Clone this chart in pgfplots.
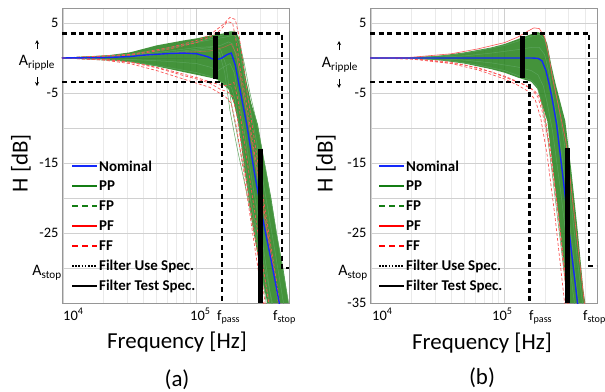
\documentclass[border=0pt]{standalone}
\usepackage{pgfplots}
\pgfplotsset{compat=1.18}
\usepackage{fontspec}
\setmainfont{Carlito}
\definecolor{nomblue}{RGB}{20,40,250}
\definecolor{ppgreen}{RGB}{20,125,20}
\definecolor{bandgreen}{RGB}{35,128,25}
\definecolor{ffred}{RGB}{250,85,85}
\definecolor{gridgray}{RGB}{208,208,208}
\definecolor{framegray}{RGB}{150,150,150}
\pgfplotsset{
 panel/.style={
  scale only axis, width=227bp, height=295bp,
  xmin=3.99, xmax=5.693, ymin=-35, ymax=7.14,
  axis line style={framegray, line width=0.6bp},
  xtick={4,5}, xticklabels={},
  minor xtick={4.301,4.477,4.602,4.699,4.778,4.845,4.903,4.954,5.301,5.477,5.602},
  ytick={-35,-30,...,5},
  major tick length=0pt, minor tick length=0pt,
  grid=both,
  major grid style={gridgray, line width=0.6bp},
  minor grid style={gridgray!45, line width=0.4bp},
  yticklabel style={font=\fontsize{14.5}{16}\selectfont},
  clip mode=individual,
 },
 nominal/.style={nomblue, line width=1.4bp},
 band/.style={draw=none, fill=bandgreen, fill opacity=0.85, forget plot},
 gline/.style={ppgreen!70!white, line width=0.5bp, forget plot},
 ffline/.style={ffred, line width=0.7bp, dash pattern=on 3bp off 2bp, forget plot},
 pfline/.style={ffred, line width=0.6bp, forget plot},
 usespec/.style={black, line width=2.5bp, dash pattern=on 5bp off 3.5bp, forget plot},
 testspec/.style={black, line width=4.5bp, forget plot},
}
% legend drawn as key swatches beside bold labels, x0 = left end of swatch (bp)
\newcommand{\mylegend}[1]{%
  \begin{scope}[every node/.style={font=\bfseries\fontsize{15}{16}\selectfont, inner sep=0pt, anchor=west}]
  \draw[nomblue, line width=1.8bp] (#1bp,-166bp) -- ++(25bp,0);
  \node at (#1bp+27bp,-166bp) {Nominal};
  \draw[ppgreen, line width=1.8bp] (#1bp,-186bp) -- ++(25bp,0);
  \node at (#1bp+27bp,-186bp) {PP};
  \draw[ppgreen, line width=1.8bp, dash pattern=on 6bp off 4bp] (#1bp,-206bp) -- ++(25bp,0);
  \node at (#1bp+27bp,-206bp) {FP};
  \draw[red, line width=1.8bp] (#1bp,-226bp) -- ++(25bp,0);
  \node at (#1bp+27bp,-226bp) {PF};
  \draw[red, line width=1.8bp, dash pattern=on 6bp off 4bp] (#1bp,-246bp) -- ++(25bp,0);
  \node at (#1bp+27bp,-246bp) {FF};
  \draw[black, line width=1.6bp, dash pattern=on 1.6bp off 1.6bp] (#1bp,-266bp) -- ++(25bp,0);
  \node at (#1bp+27bp,-266bp) {Filter Use Spec.};
  \draw[black, line width=2.4bp] (#1bp,-286bp) -- ++(25bp,0);
  \node at (#1bp+27bp,-286bp) {Filter Test Spec.};
  \end{scope}%
}
\begin{document}
\begin{tikzpicture}
\path[use as bounding box] (0,0) rectangle (605bp,-392bp);
% ---------------- panel (a)
\begin{axis}[panel, at={(62bp,-8bp)}, anchor=north west,
  yticklabels={{},{},{-25},{},{-15},{},{-5},{},{5}}]
\addplot[band] coordinates {(3.99,0.05) (4.3,0.3) (4.5,0.8) (4.7,1.8) (4.9,2.5) (5.0,2.8) (5.1,3.2) (5.2,3.5) (5.25,3.8) (5.29,3.8) (5.32,2.8) (5.35,-0.5) (5.37,-3) (5.41,-6.5) (5.46,-9.5) (5.5,-14) (5.56,-20) (5.6,-25) (5.65,-30) (5.69,-35) (5.53,-35) (5.47,-29.5) (5.41,-23) (5.36,-16) (5.31,-9) (5.28,-6.5) (5.24,-4.5) (5.2,-3.8) (5.15,-3.0) (5.1,-2.8) (5.0,-2.4) (4.9,-2.0) (4.7,-1.2) (4.5,-0.6) (4.3,-0.2) (3.99,-0.05)} -- cycle;
\addplot[gline] coordinates {(3.99,0) (4.5,0.5) (4.8,1.5) (5.0,2.3) (5.1,2.8) (5.2,3.3) (5.26,3.6) (5.29,3.2) (5.32,1.5) (5.35,-2) (5.39,-6) (5.45,-12) (5.52,-20) (5.6,-29) (5.66,-36)};
\addplot[gline] coordinates {(3.99,0) (4.5,0.3) (4.8,1.0) (5.0,1.5) (5.1,1.6) (5.18,1.8) (5.24,2.3) (5.27,2.0) (5.3,0) (5.33,-3) (5.37,-7) (5.43,-14) (5.5,-22) (5.58,-31) (5.62,-36)};
\addplot[gline] coordinates {(3.99,0) (4.5,-0.2) (4.8,-0.5) (5.0,-0.8) (5.1,-1.3) (5.16,-1.8) (5.21,-1.2) (5.25,-0.8) (5.28,-2) (5.31,-5) (5.35,-9.5) (5.42,-18) (5.5,-27) (5.57,-36)};
\addplot[gline] coordinates {(3.99,0) (4.5,-0.5) (4.8,-1.4) (5.0,-2.1) (5.1,-2.6) (5.17,-3.2) (5.22,-3.8) (5.26,-4.2) (5.29,-6) (5.32,-9.5) (5.38,-17) (5.46,-27) (5.53,-36)};
\addplot[gline] coordinates {(3.99,0) (4.6,0.6) (4.9,1.8) (5.1,2.6) (5.22,3.0) (5.28,3.3) (5.32,2.4) (5.36,-1) (5.4,-5) (5.46,-10) (5.52,-16) (5.6,-25) (5.69,-35)};
\addplot[gline] coordinates {(3.99,0) (4.6,0.3) (4.9,0.9) (5.1,1.2) (5.17,0.8) (5.21,-2) (5.25,-7.5) (5.3,-12.5) (5.4,-21.5) (5.5,-30.5) (5.56,-36)};
\addplot[gline] coordinates {(3.99,0) (4.6,0.3) (4.9,1.0) (5.1,1.5) (5.18,1.2) (5.22,-1) (5.26,-6.5) (5.31,-11.5) (5.4,-20) (5.5,-29) (5.58,-36)};
\addplot[ffline] coordinates {(3.99,0) (4.5,0.5) (4.8,1.5) (5.0,2.5) (5.1,3.3) (5.2,4.8) (5.25,5.8) (5.29,5.5) (5.32,3) (5.35,-1) (5.38,-5) (5.42,-10) (5.5,-20) (5.6,-32) (5.63,-36)};
\addplot[ffline] coordinates {(3.99,0) (4.5,0.4) (4.8,1.3) (5.0,2.2) (5.1,3.0) (5.18,4.0) (5.23,5.2) (5.27,5.0) (5.3,2) (5.33,-2) (5.37,-6) (5.42,-12) (5.5,-21) (5.6,-33) (5.62,-36)};
\addplot[ffline] coordinates {(3.99,0) (4.3,-0.2) (4.5,-0.6) (4.7,-1.4) (4.9,-2.5) (5.0,-3.0) (5.1,-3.6) (5.18,-4.5) (5.23,-4.8) (5.27,-5.5) (5.3,-8) (5.34,-13) (5.4,-21) (5.5,-33) (5.52,-36)};
\addplot[ffline] coordinates {(3.99,0) (4.3,-0.3) (4.5,-0.8) (4.7,-1.8) (4.9,-3.0) (5.0,-3.6) (5.1,-4.2) (5.17,-5.0) (5.22,-5.6) (5.26,-6.5) (5.3,-10) (5.35,-16) (5.42,-25) (5.5,-35) (5.51,-36)};
\addplot[ffline] coordinates {(3.99,0) (4.4,-0.3) (4.6,-0.9) (4.8,-1.8) (5.0,-2.8) (5.1,-3.4) (5.2,-4.0) (5.25,-3.8) (5.28,-3.5) (5.31,-6) (5.35,-11) (5.42,-20) (5.5,-30) (5.55,-36)};
\addplot[pfline, opacity=0.6] coordinates {(3.99,0) (4.5,0.2) (4.9,0.8) (5.1,1) (5.2,1.5) (5.26,2) (5.3,0.5) (5.33,-3) (5.38,-8.5) (5.45,-16) (5.52,-24) (5.6,-33) (5.63,-36)};
\addplot[nominal, forget plot] coordinates {(3.99,0) (4.3,0.05) (4.5,0.2) (4.6,0.4) (4.8,0.65) (4.9,0.7) (5.0,0.6) (5.08,0.2) (5.14,-0.3) (5.19,0.0) (5.23,0.5) (5.26,0.7) (5.29,-1) (5.31,-3) (5.34,-6) (5.376,-9.5) (5.43,-16) (5.496,-23) (5.56,-29) (5.62,-35) (5.64,-37)};
\addplot[usespec] coordinates {(3.99,3.5) (5.64,3.5) (5.64,-30) (5.693,-30)};
\addplot[usespec] coordinates {(3.99,-3.4) (5.19,-3.4) (5.19,-35)};
\addplot[testspec] coordinates {(5.143,3.1) (5.143,-3.0)};
\addplot[testspec] coordinates {(5.48,-13) (5.48,-35)};
\end{axis}
% ---------------- panel (b)
\begin{axis}[panel, at={(370bp,-8bp)}, anchor=north west,
  yticklabels={{-35},{},{-25},{},{-15},{},{-5},{},{5}}]
\addplot[band] coordinates {(3.99,0) (4.25,0.05) (4.5,0.3) (4.7,0.8) (4.9,1.5) (5.0,2.0) (5.1,2.7) (5.2,3.4) (5.25,3.7) (5.29,3.4) (5.32,2) (5.35,-1) (5.38,-3.5) (5.40,-5) (5.455,-9) (5.5,-16) (5.55,-25) (5.59,-33) (5.605,-35) (5.475,-35) (5.4,-22) (5.32,-9) (5.27,-6) (5.25,-4.5) (5.2,-3.4) (5.1,-2.8) (5.0,-2.1) (4.9,-1.6) (4.7,-0.8) (4.5,-0.3) (4.25,-0.05) (3.99,0)} -- cycle;
\addplot[gline] coordinates {(3.99,0) (4.3,0.05) (4.6,0.4) (4.8,1.0) (5.0,1.8) (5.1,2.4) (5.2,3.1) (5.26,3.4) (5.3,2.6) (5.33,0.5) (5.36,-2.5) (5.4,-6.5) (5.45,-12.5) (5.5,-21) (5.55,-29.5) (5.59,-36)};
\addplot[gline] coordinates {(3.99,0) (4.4,0.05) (4.7,0.3) (4.9,0.7) (5.1,1.2) (5.2,1.5) (5.26,1.5) (5.3,0.5) (5.33,-1.8) (5.36,-5) (5.4,-9.5) (5.45,-17) (5.5,-25.5) (5.56,-36)};
\addplot[gline] coordinates {(3.99,0) (4.4,-0.05) (4.7,-0.3) (4.9,-0.7) (5.1,-1.3) (5.2,-1.8) (5.25,-2.4) (5.29,-4) (5.32,-6.5) (5.36,-10.5) (5.42,-19) (5.48,-28.5) (5.53,-36)};
\addplot[gline] coordinates {(3.99,0) (4.3,-0.05) (4.6,-0.4) (4.8,-1.0) (5.0,-1.8) (5.1,-2.5) (5.2,-3.2) (5.24,-4) (5.27,-5.8) (5.31,-9.5) (5.36,-17) (5.42,-26.5) (5.48,-36)};
\addplot[ffline] coordinates {(3.99,0) (4.3,-0.1) (4.6,-0.6) (4.8,-1.4) (5.0,-2.6) (5.1,-3.4) (5.2,-4.4) (5.25,-5.6) (5.28,-7.5) (5.33,-12) (5.4,-22) (5.47,-35) (5.48,-37)};
\addplot[ffline] coordinates {(3.99,0) (4.3,-0.15) (4.6,-0.8) (4.8,-1.7) (5.0,-3.0) (5.1,-3.9) (5.18,-4.8) (5.23,-6) (5.27,-8.5) (5.32,-14) (5.38,-23) (5.45,-35) (5.46,-37)};
\addplot[ffline] coordinates {(3.99,0) (4.35,-0.15) (4.7,-1.0) (4.9,-2.0) (5.05,-3.1) (5.15,-3.8) (5.22,-4.6) (5.26,-5.5) (5.3,-8) (5.35,-14) (5.42,-25) (5.48,-35.5) (5.49,-37)};
\addplot[pfline] coordinates {(3.99,0) (4.3,0.1) (4.6,0.6) (4.8,1.3) (5.0,2.2) (5.1,3.0) (5.18,3.9) (5.22,4.3) (5.26,4.2) (5.3,3) (5.33,0.5) (5.36,-3) (5.40,-6.5) (5.46,-12) (5.52,-22) (5.58,-32) (5.61,-37)};
\addplot[nominal, forget plot] coordinates {(3.99,0) (5.2,0) (5.25,-0.05) (5.28,-0.4) (5.31,-1.8) (5.335,-3.8) (5.36,-6.2) (5.39,-9.5) (5.45,-19) (5.5,-27.5) (5.55,-35.5) (5.56,-37)};
\addplot[usespec] coordinates {(3.99,3.5) (5.634,3.5) (5.634,-29.7) (5.693,-29.7)};
\addplot[usespec] coordinates {(3.99,-3.4) (5.187,-3.4) (5.187,-35)};
\addplot[testspec] coordinates {(5.134,3.1) (5.134,-2.8)};
\addplot[testspec] coordinates {(5.47,-12.9) (5.47,-35)};
\end{axis}
\mylegend{72}
\mylegend{379}
% ---------------- outside texts
\begin{scope}[every node/.style={font=\fontsize{14.5}{16}\selectfont, inner sep=0pt}]
\node[anchor=base west] at (63bp,-320bp) {10\textsuperscript{4}};
\node[anchor=base west] at (190bp,-320bp) {10\textsuperscript{5}};
\node[anchor=base west] at (217bp,-320bp) {f\textsubscript{pass}};
\node[anchor=base west] at (273bp,-320bp) {f\textsubscript{stop}};
\node[anchor=base west] at (372bp,-320bp) {10\textsuperscript{4}};
\node[anchor=base west] at (492bp,-320bp) {10\textsuperscript{5}};
\node[anchor=base west] at (529bp,-320bp) {f\textsubscript{pass}};
\node[anchor=base west] at (583bp,-320bp) {f\textsubscript{stop}};
\node[font=\fontsize{16}{18}\selectfont] at (37bp,-63bp) {A\textsubscript{ripple}};
\node[font=\fontsize{16}{18}\selectfont] at (340bp,-65bp) {A\textsubscript{ripple}};
\node[font=\fontsize{16}{18}\selectfont] at (47bp,-273bp) {A\textsubscript{stop}};
\node[font=\fontsize{16}{18}\selectfont] at (353bp,-273bp) {A\textsubscript{stop}};
\end{scope}
\draw[-stealth, line width=0.8bp] (37bp,-49bp) -- (37bp,-40bp);
\draw[-stealth, line width=0.8bp] (37bp,-77bp) -- (37bp,-86bp);
\draw[-stealth, line width=0.8bp] (339bp,-50bp) -- (339bp,-41bp);
\draw[-stealth, line width=0.8bp] (339bp,-79bp) -- (339bp,-88bp);
\node[font=\fontsize{23}{25}\selectfont, rotate=90] at (21bp,-163bp) {H [dB]};
\node[font=\fontsize{23}{25}\selectfont, rotate=90] at (326bp,-163bp) {H [dB]};
\node[font=\fontsize{23}{25}\selectfont] at (177bp,-342bp) {Frequency [Hz]};
\node[font=\fontsize{23}{25}\selectfont] at (482bp,-343bp) {Frequency [Hz]};
\node[font=\fontsize{23}{25}\selectfont] at (177bp,-380bp) {(a)};
\node[font=\fontsize{23}{25}\selectfont] at (482bp,-378bp) {(b)};
\end{tikzpicture}
\end{document}
